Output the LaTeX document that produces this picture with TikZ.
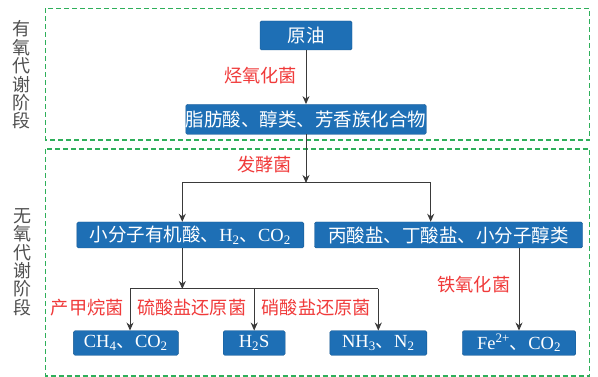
\documentclass[tikz,border=0pt]{standalone}
\usepackage{fontspec}
\setmainfont{Liberation Serif}
\newfontfamily\cjk{Noto Sans CJK SC}
\usetikzlibrary{arrows.meta}
\definecolor{boxblue}{HTML}{1E6FB5}
\definecolor{labred}{HTML}{F03A3A}
\definecolor{dgreen}{HTML}{2EAF5A}
\definecolor{lgray}{HTML}{505050}
\definecolor{conn}{HTML}{3A3A3A}
\tikzset{
  bbox/.style={fill=boxblue, draw=boxblue!80!black, line width=0.4pt, rounded corners=1.5pt, text=white, inner sep=0pt, font=\fontsize{18.5}{20}\selectfont},
  blab/.style={text=labred, inner sep=0pt, font=\fontsize{18.2}{20}\cjk},
  stagelab/.style={text=lgray, inner sep=0pt, align=center, font=\fontsize{18}{18.4}\cjk},
  zone/.style={draw=dgreen, line width=1.1pt, dash pattern=on 5pt off 3pt},
  conline/.style={draw=conn, line width=1pt},
  arr/.style={conline, -{Stealth[length=8pt,width=7pt]}}
}
\begin{document}
\begin{tikzpicture}[x=1pt,y=-1pt]
\useasboundingbox (0,0) rectangle (598,377);
% zones
\draw[zone] (45.7,8.3) rectangle (589.7,140);
\draw[zone] (45.7,149) rectangle (589.7,376);
\node[stagelab] (s1) at (21.7,75) {有\\氧\\代\\谢\\阶\\段};
\node[stagelab] (s2) at (22,262) {无\\氧\\代\\谢\\阶\\段};
% boxes
\node[bbox, minimum width=92pt, minimum height=29pt] (oil) at (306,35.5) {\cjk 原油};
\node[bbox, minimum width=168pt, minimum height=30pt] (fat) at (306,119.3) {\cjk 脂肪酸、醇类、芳香族化合物};
\node[bbox, minimum width=227pt, minimum height=26pt] (org) at (190.3,235) {{\cjk 小分子有机酸、}H\textsubscript{2}{\cjk 、}CO\textsubscript{2}};
\node[bbox, minimum width=268pt, minimum height=26pt] (salt) at (448.5,235) {\cjk 丙酸盐、丁酸盐、小分子醇类};
\node[bbox, minimum width=105pt, minimum height=24.5pt] (ch4) at (125.8,343) {CH\textsubscript{4}{\cjk 、}CO\textsubscript{2}};
\node[bbox, minimum width=62pt, minimum height=24.5pt] (h2s) at (254.2,343) {H\textsubscript{2}S};
\node[bbox, minimum width=97pt, minimum height=24.5pt] (nh3) at (378.3,343) {NH\textsubscript{3}{\cjk 、}N\textsubscript{2}};
\node[bbox, minimum width=113.5pt, minimum height=24.5pt] (fe) at (519,343) {Fe\textsuperscript{2+}{\cjk 、}CO\textsubscript{2}};
% labels
\node[blab] (l1) at (260.5,76) {烃氧化菌};
\node[blab] (l2) at (264.3,165) {发酵菌};
\node[blab] (l3) at (87.3,308) {产甲烷菌};
\node[blab] (l4) at (191.7,308) {硫酸盐还原菌};
\node[blab] (l5) at (316.2,308) {硝酸盐还原菌};
\node[blab] (l6) at (473.8,285) {铁氧化菌};
% connectors
\draw[arr] (oil.south) -- (fat.north);
\coordinate (b1m) at (306,183);
\coordinate (b1l) at (182.3,183);
\coordinate (b1r) at (430.7,183);
\draw[arr] (fat.south) -- (b1m);
\draw[conline] (b1l) -- (b1r);
\draw[arr] (b1l) -- (b1l |- org.north);
\draw[arr] (b1r) -- (b1r |- salt.north);
\coordinate (b2m) at (182.3,289);
\coordinate (b2l) at (130,289);
\coordinate (b2c) at (254.2,289);
\coordinate (b2r) at (378.3,289);
\draw[arr] (b2m |- org.south) -- (b2m);
\draw[conline] (b2l) -- (b2r);
\draw[arr] (b2l) -- (b2l |- ch4.north);
\draw[arr] (b2c) -- (h2s.north);
\draw[arr] (b2r) -- (nh3.north);
\draw[arr] (fe.north |- salt.south) -- (fe.north);
\end{tikzpicture}
\end{document}
